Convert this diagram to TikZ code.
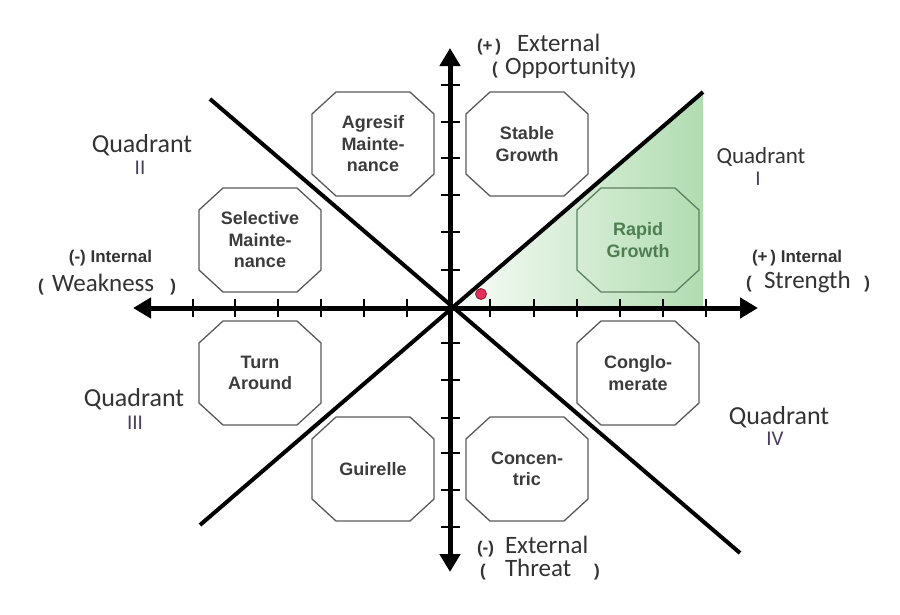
\documentclass[tikz,border=0pt]{standalone}
\usepackage{fontspec}
\setmainfont{Carlito}
\newfontfamily\arialfont{Liberation Sans}
\usetikzlibrary{arrows.meta}
\definecolor{txt}{HTML}{333333}
\definecolor{octtxt}{HTML}{3C3C3C}
\definecolor{octline}{HTML}{5A5A5A}
\definecolor{grn}{HTML}{A8D8A8}
\definecolor{grntxt}{HTML}{4F7D52}
\definecolor{grnline}{HTML}{5E8060}
\definecolor{roman}{HTML}{4B3D5E}
\definecolor{dotred}{HTML}{E3305A}
\tikzset{
 octlabel/.style={inner sep=0pt, outer sep=0pt, minimum width=122pt, minimum height=104pt, align=center, font=\arialfont\bfseries\fontsize{18}{21.5}\selectfont},
 lbl/.style={inner sep=0pt, outer sep=0pt, text=txt, font=\fontsize{25}{25}\selectfont},
 sgn/.style={inner sep=0pt, outer sep=0pt, text=txt, font=\arialfont\bfseries\fontsize{17}{17}\selectfont},
 quad/.style={inner sep=0pt, outer sep=0pt, text=txt, font=\fontsize{26}{26}\selectfont},
 rom/.style={inner sep=0pt, outer sep=0pt, text=roman, font=\fontsize{21}{21}\selectfont},
 axisline/.style={line width=5pt, {Triangle[length=18pt,width=20pt]}-{Triangle[length=18pt,width=20pt]}},
 diagline/.style={line width=4pt},
 tickline/.style={line width=2.5pt},
}
\newcommand\octbox[6]{%
 \node[octlabel,text=#5] (#1) at (#2,#3) {#4};
 \draw[#6, line width=1.3pt, line join=round] ([xshift=24pt]#1.north west) -- ([xshift=-24pt]#1.north east) -- ([yshift=-22pt]#1.north east) -- ([yshift=22pt]#1.south east) -- ([xshift=-24pt]#1.south east) -- ([xshift=24pt]#1.south west) -- ([yshift=22pt]#1.south west) -- ([yshift=-22pt]#1.north west) -- cycle;}
\begin{document}
\begin{tikzpicture}[x=1pt,y=-1pt]
\useasboundingbox[fill=white] (0,0) rectangle (900,614);
% coordinates
\coordinate (O) at (450,308);
\coordinate (NE) at (703,92);
\coordinate (SW) at (200,525);
\coordinate (NW) at (210,99);
\coordinate (SE) at (740,553);
\coordinate (GR) at (703,308);
\coordinate (L) at (133,308);
\coordinate (R) at (758,308);
\coordinate (T) at (450,48);
\coordinate (B) at (450,572);
% green region
\shade[left color=grn!5, right color=grn!90] (O) -- (NE) -- (GR) -- cycle;
% octagons
\octbox{agr}{373}{144}{Agresif\\Mainte-\\nance}{octtxt}{octline}
\octbox{stab}{527}{144}{Stable\\Growth}{octtxt}{octline}
\octbox{sel}{260}{240}{Selective\\Mainte-\\nance}{octtxt}{octline}
\octbox{rap}{638}{240}{Rapid\\Growth}{grntxt}{grnline}
\octbox{turn}{260}{373}{Turn\\Around}{octtxt}{octline}
\octbox{cong}{638}{373}{Conglo-\\merate}{octtxt}{octline}
\octbox{gui}{373}{469}{Guirelle}{octtxt}{octline}
\octbox{conc}{527}{469}{Concen-\\tric}{octtxt}{octline}
% diagonals
\draw[diagline] (SW) -- (NE);
\draw[diagline] (NW) -- (SE);
% ticks
\foreach \x in {193,235,278,321,364,407,490,534,577,620,663,706}
  \draw[tickline] (\x,299) -- (\x,317);
\foreach \y in {85,122,158,195,232,270,343,380,418,453,490,527}
  \draw[tickline] (441,\y) -- (460,\y);
% axes
\draw[axisline] (L) -- (R);
\draw[axisline] (B) -- (T);
% dot
\node[circle, fill=dotred, draw=dotred!60!black, line width=0.8pt, minimum size=11pt, inner sep=0pt] (dot) at (481,294) {};
% axis labels
\node[sgn, anchor=base west] (tp1) at (477,51) {(+\,)};
\node[lbl, anchor=base west] (tp2) at (517,51) {External};
\node[sgn, anchor=base west] (tp3) at (492,74) {(};
\node[lbl, anchor=base west] (tp4) at (505,74) {Opportunity};
\node[sgn, anchor=base west] (tp5) at (630,74) {)};
\node[sgn, anchor=base east] (lf1) at (152,262) {(-) Internal};
\node[sgn, anchor=base west] (lf2) at (38,291) {(};
\node[lbl, anchor=base west] (lf3) at (52,291) {Weakness};
\node[sgn, anchor=base east] (lf4) at (176,291) {)};
\node[sgn, anchor=base west] (rt1) at (752,262) {(+\,) Internal};
\node[sgn, anchor=base west] (rt2) at (746,288) {(};
\node[lbl, anchor=base west] (rt3) at (764,288) {Strength};
\node[sgn, anchor=base east] (rt4) at (870,288) {)};
\node[sgn, anchor=base west] (bt1) at (477,553) {(-)};
\node[lbl, anchor=base west] (bt2) at (505,553) {External};
\node[sgn, anchor=base west] (bt3) at (480,576) {(};
\node[lbl, anchor=base west] (bt4) at (505,576) {Threat};
\node[sgn, anchor=base west] (bt5) at (594,576) {)};
% quadrants
\node[quad, anchor=base] (q2) at (142,152) {Quadrant};
\node[rom, anchor=base] (q2r) at (140,174) {II};
\node[quad, anchor=base, font=\fontsize{23}{23}\selectfont] (q1) at (761,163) {Quadrant};
\node[rom, anchor=base] (q1r) at (758,185) {I};
\node[quad, anchor=base] (q3) at (134,406) {Quadrant};
\node[rom, anchor=base] (q3r) at (135,429) {III};
\node[quad, anchor=base] (q4) at (779,424) {Quadrant};
\node[rom, anchor=base] (q4r) at (775,445) {IV};
\end{tikzpicture}
\end{document}
